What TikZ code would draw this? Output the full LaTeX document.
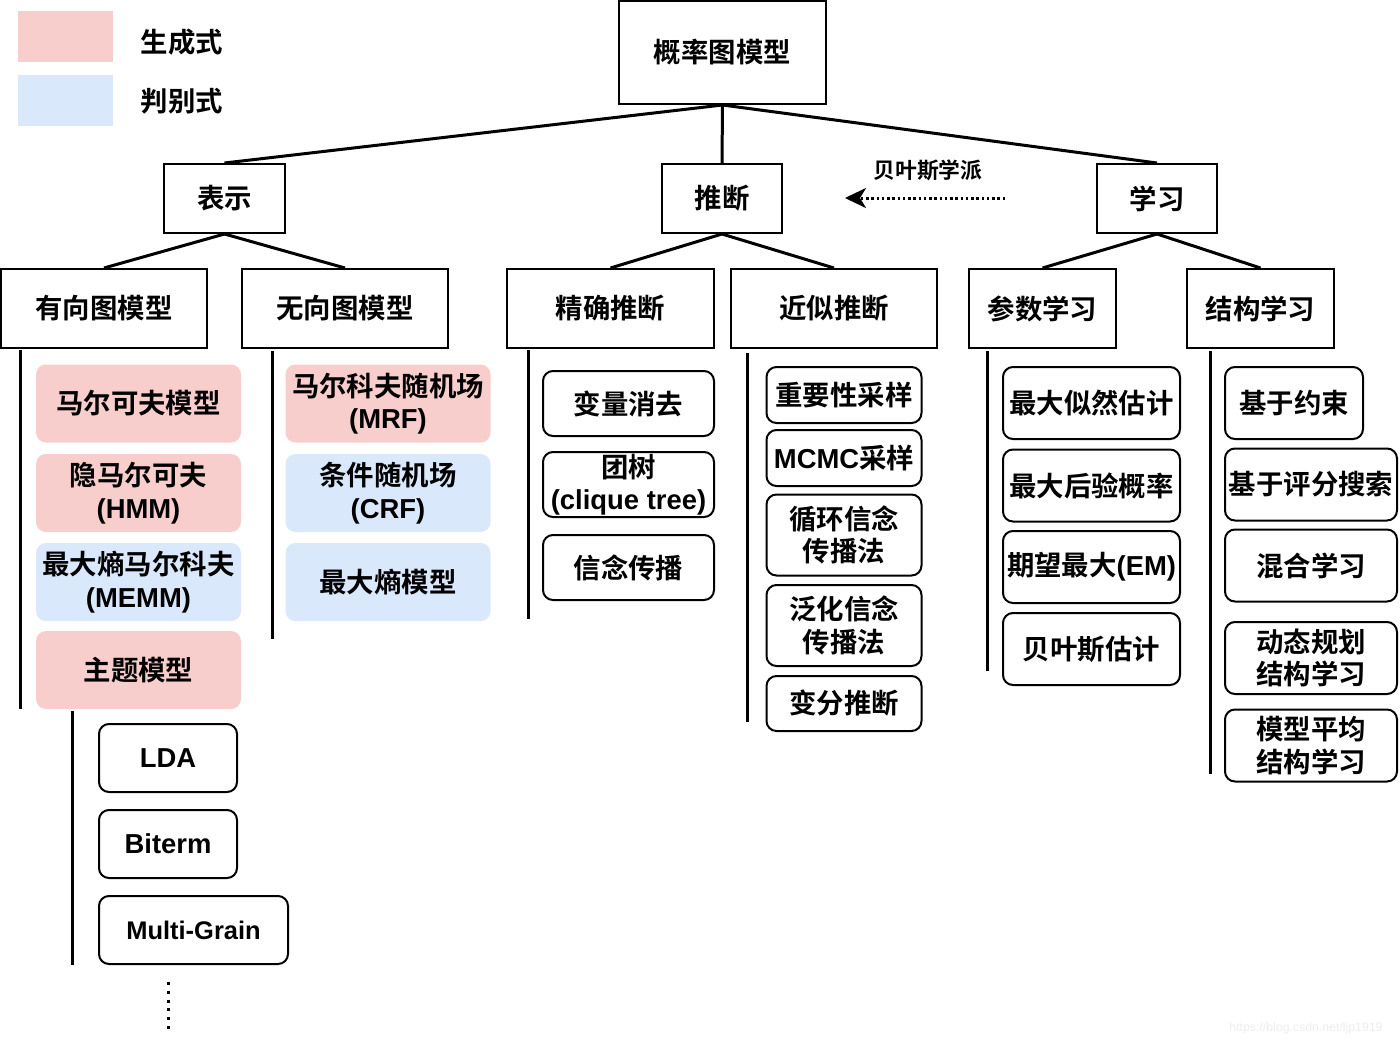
\documentclass[tikz,border=0pt]{standalone}
\usepackage{fontspec}
\setmainfont{Liberation Sans}
\newfontfamily\zhfont{Noto Sans CJK SC}[BoldFont={Noto Sans CJK SC Bold}]
\newfontfamily\enfont{Liberation Sans}
\newcommand{\en}[1]{{\enfont #1}}
\usetikzlibrary{arrows.meta}
\definecolor{genpink}{HTML}{F8CECC}
\definecolor{discblue}{HTML}{DAE8FC}

\begin{document}
\begin{tikzpicture}[
    x=0.02cm, y=-0.02cm,
    every node/.style={font=\zhfont\bfseries\fontsize{15.6}{18.5}\selectfont, align=center, inner sep=1pt},
    wh/.style 2 args={minimum width=#1*0.02cm, minimum height=#2*0.02cm},
    head/.style={draw, line width=0.04cm},
    leaf/.style={draw, line width=0.04cm, rounded corners=0.2cm},
    gen/.style={fill=genpink, rounded corners=0.2cm},
    disc/.style={fill=discblue, rounded corners=0.2cm},
    branch/.style={line width=0.06cm},
    rail/.style={line width=0.06cm},
    bayes/.style={line width=0.06cm, dash pattern=on 0.05cm off 0.055cm, -{Stealth[length=0.42cm, width=0.4cm, inset=0.12cm]}},
    moredots/.style={line width=0.06cm, dash pattern=on 0.06cm off 0.115cm}
  ]
  \useasboundingbox (0,0) rectangle (1400,1045);

  % legend
  \node[fill=genpink, wh={95}{51}] (genKey) at (65.5,36.5) {};
  \node[fill=discblue, wh={95}{51}] (discKey) at (65.5,100.5) {};
  \node (genTxt) at (182,42) {生成式};
  \node (discTxt) at (182,101) {判别式};

  % top levels
  \node[head, wh={207}{103}] (pgm) at (722.5,52.5) {概率图模型};
  \node[head, wh={121}{69}] (rep) at (224.5,198.5) {表示};
  \node[head, wh={120}{69}] (inf) at (722,198.5) {推断};
  \node[head, wh={120}{69}] (lrn) at (1157,198.5) {学习};

  \node[head, wh={206}{79}] (dir) at (104,308.5) {有向图模型};
  \node[head, wh={206}{79}] (undir) at (345,308.5) {无向图模型};
  \node[head, wh={207}{79}] (exact) at (610.5,308.5) {精确推断};
  \node[head, wh={206}{79}] (approx) at (834,308.5) {近似推断};
  \node[head, wh={147}{79}] (param) at (1042.5,308.5) {参数学习};
  \node[head, wh={147}{79}] (struct) at (1260.5,308.5) {结构学习};

  \draw[branch] (pgm.south) -- (rep.north);
  \draw[branch] (pgm.south) -- (inf.north);
  \draw[branch] (pgm.south) -- (lrn.north);
  \draw[branch] (rep.south) -- (dir.north);
  \draw[branch] (rep.south) -- (undir.north);
  \draw[branch] (inf.south) -- (exact.north);
  \draw[branch] (inf.south) -- (approx.north);
  \draw[branch] (lrn.south) -- (param.north);
  \draw[branch] (lrn.south) -- (struct.north);

  % bayesian school
  \coordinate (bayesFrom) at (1005,198);
  \coordinate (bayesTo) at (845,198);
  \draw[bayes] (bayesFrom) -- (bayesTo);
  \node[font=\zhfont\bfseries\fontsize{12.4}{14}\selectfont] (bayesLbl) at (928,170) {贝叶斯学派};

  % directed models
  \node[gen, wh={205}{78}] (markov) at (138.5,403.5) {马尔可夫模型};
  \node[gen, wh={205}{78}] (hmm) at (138.5,493) {隐马尔可夫\\\en{(HMM)}};
  \node[disc, wh={205}{78}] (memm) at (138.5,582) {最大熵马尔科夫\\\en{(MEMM)}};
  \node[gen, wh={205}{78}] (topic) at (138.5,670) {主题模型};
  \draw[rail] (dir.south west) ++(20,1) -- ++(0,359);

  \node[leaf, wh={138}{68}] (lda) at (168,758) {\en{LDA}};
  \node[leaf, wh={138}{68}] (biterm) at (168,844) {\en{Biterm}};
  \node[leaf, wh={189}{68}] (multi) at (193.5,930) {\en{\fontsize{14.5}{17}\selectfont Multi-Grain}};
  \draw[rail] (topic.south west) ++(37,2) -- ++(0,254);
  \draw[moredots] (multi.south -| lda.south) ++(0,17) -- ++(0,48);

  % undirected models
  \node[gen, wh={205}{78}] (mrf) at (388,403.5) {马尔科夫随机场\\\en{(MRF)}};
  \node[disc, wh={205}{78}] (crf) at (388,493) {条件随机场\\\en{(CRF)}};
  \node[disc, wh={205}{78}] (maxent) at (388,582) {最大熵模型};
  \draw[rail] (undir.south west) ++(31,2) -- ++(0,288);

  % exact inference
  \node[leaf, wh={171}{65}] (varelim) at (628.5,403.5) {变量消去};
  \node[leaf, wh={171}{65}] (clique) at (628.5,484.5) {团树\\\en{(clique tree)}};
  \node[leaf, wh={171}{65}] (bp) at (628.5,567.5) {信念传播};
  \draw[rail] (exact.south west) ++(22,1) -- ++(0,269);

  % approximate inference
  \node[leaf, wh={155}{56}] (imp) at (844,395) {重要性采样};
  \node[leaf, wh={155}{56}] (mcmc) at (844,458) {\en{MCMC}采样};
  \node[leaf, wh={155}{81}] (loopy) at (844,535) {循环信念\\传播法};
  \node[leaf, wh={155}{81}] (gbp) at (844,625.5) {泛化信念\\传播法};
  \node[leaf, wh={155}{55}] (vi) at (844,703.5) {变分推断};
  \draw[rail] (approx.south west) ++(17,4) -- ++(0,369);

  % parameter learning
  \node[leaf, wh={177}{72}] (mle) at (1091.5,403) {最大似然估计};
  \node[leaf, wh={177}{72}] (map) at (1091.5,485.5) {最大后验概率};
  \node[leaf, wh={177}{72}] (em) at (1091.5,567) {期望最大\en{(EM)}};
  \node[leaf, wh={177}{72}] (bayesest) at (1091.5,649) {贝叶斯估计};
  \draw[rail] (param.south west) ++(19,2) -- ++(0,320);

  % structure learning
  \node[leaf, wh={138}{72}] (constraint) at (1294,403) {基于约束};
  \node[leaf, wh={172}{72}] (score) at (1311,484.5) {基于评分搜索};
  \node[leaf, wh={172}{72}] (hybrid) at (1311,565.5) {混合学习};
  \node[leaf, wh={172}{72}] (dp) at (1311,658) {动态规划\\结构学习};
  \node[leaf, wh={172}{72}] (avg) at (1311,745.5) {模型平均\\结构学习};
  \draw[rail] (struct.south west) ++(24,2) -- ++(0,423);

  \node[font=\enfont\fontsize{7}{9}\selectfont, text=gray!14] (mark) at (1306,1028) {https://blog.csdn.net/ljp1919};
\end{tikzpicture}
\end{document}
